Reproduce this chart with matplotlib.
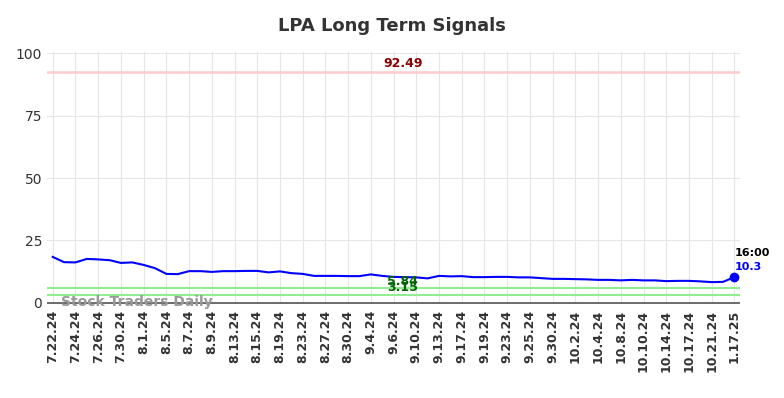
import matplotlib.pyplot as plt

# trading days shown on the chart (ticks every 2nd point)
dates = ['7.22.24', '7.23.24', '7.24.24', '7.25.24', '7.26.24', '7.29.24', '7.30.24', '7.31.24',
         '8.1.24', '8.2.24', '8.5.24', '8.6.24', '8.7.24', '8.8.24', '8.9.24', '8.12.24',
         '8.13.24', '8.14.24', '8.15.24', '8.16.24', '8.19.24', '8.21.24', '8.23.24', '8.26.24',
         '8.27.24', '8.29.24', '8.30.24', '9.3.24', '9.4.24', '9.5.24', '9.6.24', '9.9.24',
         '9.10.24', '9.12.24', '9.13.24', '9.16.24', '9.17.24', '9.18.24', '9.19.24', '9.20.24',
         '9.23.24', '9.24.24', '9.25.24', '9.27.24', '9.30.24', '10.1.24', '10.2.24', '10.3.24',
         '10.4.24', '10.7.24', '10.8.24', '10.9.24', '10.10.24', '10.11.24', '10.14.24', '10.16.24',
         '10.17.24', '10.18.24', '10.21.24', '10.22.24', '1.17.25']

values = [18.4, 16.3, 16.2, 17.6, 17.4, 17.1, 16.0, 16.2, 15.2, 13.9,
          11.6, 11.5, 12.7, 12.7, 12.4, 12.7, 12.7, 12.8, 12.8, 12.2,
          12.6, 11.9, 11.6, 10.8, 10.8, 10.8, 10.7, 10.7, 11.4, 10.8,
          10.4, 10.3, 10.2, 9.8, 10.8, 10.6, 10.7, 10.3, 10.3, 10.4,
          10.4, 10.2, 10.2, 9.9, 9.6, 9.6, 9.5, 9.4, 9.2, 9.2,
          9.0, 9.2, 9.0, 9.0, 8.7, 8.8, 8.8, 8.6, 8.3, 8.4, 10.3]

upper = 92.49
lower1 = 5.84
lower2 = 3.15

x = list(range(len(values)))

fig = plt.figure(figsize=(7.84, 3.98), dpi=100)
ax = fig.add_axes([0.06, 0.236, 0.884, 0.633])

ax.axhline(upper, color='#ffcccc', lw=1.8, zorder=2)
ax.axhline(lower1, color='#90ee90', lw=1.5, zorder=2)
ax.axhline(lower2, color='#90ee90', lw=1.5, zorder=2)
ax.axhline(0, color='#555555', lw=1.2, zorder=2)

ax.plot(x, values, color='blue', lw=1.5, zorder=3)
ax.plot(x[-1], values[-1], 'o', color='blue', ms=6, zorder=4)

mid = 30.8
ax.text(mid, upper + 0.8, '%.2f' % upper, color='darkred', fontsize=9, fontweight='bold',
        ha='center', va='bottom')
ax.text(mid, lower1 + 2.6, '%.2f' % lower1, color='darkgreen', fontsize=9, fontweight='bold',
        ha='center', va='center')
ax.text(mid, lower2 + 2.8, '%.2f' % lower2, color='darkgreen', fontsize=9, fontweight='bold',
        ha='center', va='center')

ax.text(x[-1], values[-1] + 9.6, '16:00', color='black', fontsize=8, fontweight='bold',
        ha='left', va='center')
ax.text(x[-1], values[-1] + 4.2, str(values[-1]), color='blue', fontsize=8, fontweight='bold',
        ha='left', va='center')

ax.text(0.7, 0.2, 'Stock Traders Daily', color='#999999', fontsize=10, fontweight='bold',
        ha='left', va='center', zorder=5)

ax.set_xticks(x[::2])
ax.set_xticklabels(dates[::2], rotation=90, fontsize=9, fontweight='bold', color='#333333')
ax.set_yticks([0, 25, 50, 75, 100])
ax.tick_params(axis='y', labelsize=10, labelcolor='#333333', length=0)
ax.tick_params(axis='x', length=0, pad=4)
ax.set_xlim(-0.5, 60.5)
ax.set_ylim(-0.5, 100.5)
ax.grid(True, color='#e6e6e6', lw=0.8)
ax.set_axisbelow(True)
for s in ax.spines.values():
    s.set_visible(False)

fig.text(0.5, 0.935, 'LPA Long Term Signals', ha='center', va='center', fontsize=13,
         fontweight='bold', color='#333333')

plt.savefig('out.png')
